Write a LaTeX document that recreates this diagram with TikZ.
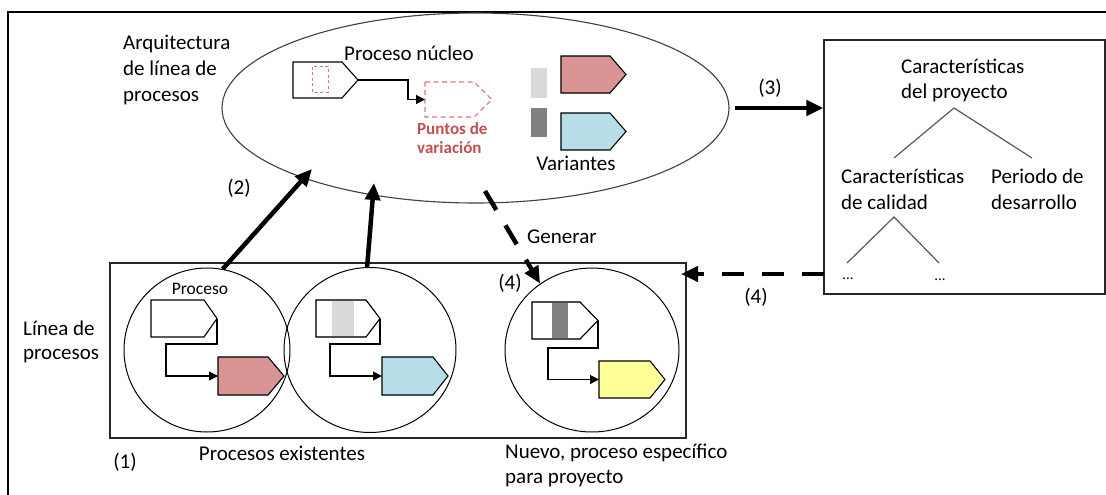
\documentclass[tikz,border=0pt]{standalone}
\usepackage{fontspec}
\setmainfont{Carlito}
\usetikzlibrary{arrows.meta,shapes.geometric,calc}

\definecolor{varred}{HTML}{D99594}
\definecolor{varblue}{HTML}{B7DDE8}
\definecolor{varyellow}{HTML}{FFFF99}
\definecolor{lightstripe}{HTML}{D9D9D9}
\definecolor{darkstripe}{HTML}{808080}
\definecolor{vpline}{HTML}{E07575}
\definecolor{vptext}{HTML}{C0504D}
\definecolor{treegray}{HTML}{5A5A5A}
\definecolor{ellgray}{HTML}{404040}
\definecolor{boxgray}{HTML}{262626}

\newcommand\diagfont{\fontsize{21}{25}\selectfont}
\newcommand\procfont{\fontsize{17.5}{20}\selectfont}
\newcommand\vpfont{\fontsize{17}{19}\selectfont\bfseries}
\newcommand\dotfont{\fontsize{15}{18}\selectfont}

% process step drawn as a pentagon: name, left, top, width, height, tip length, style
\newcommand\procshape[7]{%
  \draw[#7] (#2,#3) -- (#2+#4-#6,#3) -- (#2+#4,#3+#5/2) -- (#2+#4-#6,#3+#5)
        -- (#2,#3+#5) -- cycle;
  \coordinate (#1-w) at (#2,#3+#5/2);
  \coordinate (#1-e) at (#2+#4,#3+#5/2);
}

\tikzset{
  lbl/.style={font=\diagfont, inner sep=0pt, anchor=base west},
  lblc/.style={font=\diagfont, inner sep=0pt, anchor=base},
  bigarrow/.style={line width=4.5pt, -{Triangle[length=17pt,width=15pt]}},
  dasharrow/.style={bigarrow, dash pattern=on 22pt off 18pt},
  conn/.style={line width=1.1pt, -{Triangle[length=9pt,width=9pt]}},
  stepbox/.style={draw=black, line width=1.1pt},
  bubble/.style={ellipse, draw=black, line width=1pt, inner sep=0pt},
  treeline/.style={treegray, line width=1.2pt},
}

\begin{document}
\begin{tikzpicture}[x=1pt, y=-1pt]
\useasboundingbox (0,0) rectangle (1106,495);
\fill[white] (0,0) rectangle (1106,495);

% outer frame
\draw[line width=2pt, black] (1110,12) -- (8,12) -- (8,500);

% process line architecture
\node[ellipse, draw=ellgray, line width=1.1pt, minimum width=507pt,
      minimum height=190pt, inner sep=0pt] (arch) at (475.5,108) {};
\node[lbl] (arq1) at (123,50) {Arquitectura};
\node[lbl] (arq2) at (123,76) {de línea de};
\node[lbl] (arq3) at (123,101) {procesos};

\node[lblc] (nucleo) at (409,60) {Proceso núcleo};
\procshape{core}{293}{62}{65}{36}{16}{stepbox, fill=white}
\draw[vpline, line width=1pt, dash pattern=on 3pt off 2.5pt] (312,67) rectangle (328,92);
\procshape{vp}{425}{82}{67}{35}{18}{vpline, line width=1.1pt, dash pattern=on 5pt off 3.5pt}
\draw[conn] (core-e) -| ([xshift=-17pt]vp-w) -- (vp-w);
\node[font=\vpfont, text=vptext, inner sep=0pt, anchor=base west] (vp1) at (417,134) {Puntos de};
\node[font=\vpfont, text=vptext, inner sep=0pt, anchor=base west] (vp2) at (417,153) {variación};

% variants
\fill[lightstripe] (531,68) rectangle (547,98);
\fill[darkstripe] (531,108) rectangle (547,137);
\procshape{vred}{561}{56}{65}{37}{16}{stepbox, fill=varred}
\procshape{vblue}{561}{113}{65}{37}{16}{stepbox, fill=varblue}
\node[lblc] (variantes) at (576,170) {Variantes};

% project characteristics
\node[draw=boxgray, line width=1.3pt, minimum width=281pt, minimum height=254pt,
      inner sep=0pt] (proj) at (964.5,167) {};
\node[lbl] (pc1) at (901,74) {Características};
\node[lbl] (pc2) at (901,99) {del proyecto};
\node[lbl] (qc1) at (841,183) {Características};
\node[lbl] (qc2) at (841,209) {de calidad};
\node[lbl] (pd1) at (991,183) {Periodo de};
\node[lbl] (pd2) at (991,209) {desarrollo};
\node[font=\dotfont, inner sep=0pt, anchor=base] (dots1) at (848,279) {...};
\node[font=\dotfont, inner sep=0pt, anchor=base] (dots2) at (940,280) {...};
\coordinate (t0) at (954,108);
\coordinate (t1) at (894,158);
\coordinate (t2) at (1032,158);
\coordinate (s0) at (894,217);
\coordinate (s1) at (847,263);
\coordinate (s2) at (939,263);
\draw[treeline] (t1) -- (t0) -- (t2);
\draw[treeline] (s1) -- (s0) -- (s2);

% process line
\node[lbl] (lin1) at (23,335) {Línea de};
\node[lbl] (lin2) at (23,359) {procesos};
\node[draw=boxgray, line width=1.3pt, minimum width=576pt, minimum height=175pt,
      inner sep=0pt] (linea) at (398,350.5) {};

\node[bubble, minimum width=166pt, minimum height=164pt] (c1) at (207,350) {};
\node[bubble, minimum width=172pt, minimum height=165pt] (c2) at (370,350) {};
\node[bubble, minimum width=174pt, minimum height=164pt] (c3) at (592,350) {};

% existing process 1
\node[font=\procfont, inner sep=0pt, anchor=base] (proc) at (200,294) {Proceso};
\procshape{pa}{151}{300}{66}{37}{13}{stepbox, fill=white}
\procshape{pb}{218}{357}{66}{38}{16}{stepbox, fill=varred}
\draw[conn] (pa-e) |- (166,344) |- (pb-w);

% existing process 2
\procshape{qa}{316}{300}{64}{37}{14}{fill=white}
\fill[lightstripe] (332,300.6) rectangle (354,336.4);
\procshape{qa}{316}{300}{64}{37}{14}{stepbox}
\procshape{qb}{382}{357}{66}{38}{15}{stepbox, fill=varblue}
\draw[conn] (qa-e) |- (330,344) |- (qb-w);

% new project specific process
\procshape{ra}{532}{302}{66}{37}{18}{fill=white}
\fill[darkstripe] (552,302.6) rectangle (568,338.4);
\procshape{ra}{532}{302}{66}{37}{18}{stepbox}
\procshape{rb}{599}{361}{66}{37}{15}{stepbox, fill=varyellow}
\draw[conn] (ra-e) |- (548,348) |- (rb-w);

% relations
\coordinate (a2tip) at (312,169);
\coordinate (b2tip) at (374,183);
\coordinate (genstart) at (485,191);
\coordinate (d4start) at (824,274);
\coordinate (d4tip) at (681,274);
\draw[bigarrow] (c1.79) -- (a2tip);
\draw[bigarrow] (c2.92) -- (b2tip);
\draw[bigarrow] ([xshift=5pt]arch.east) -- (arch.east -| proj.west);
\draw[dasharrow] (genstart) -- (c3.128);
\draw[dasharrow] (d4start) -- (d4tip);

\node[lblc] (n3) at (770,94) {(3)};
\node[lblc] (n2) at (239,194) {(2)};
\node[lbl] (gen) at (527,243) {Generar};
\node[lblc] (n4a) at (510,289) {(4)};
\node[lblc] (n4b) at (756,303) {(4)};

% captions
\node[lblc] (n1) at (125,468) {(1)};
\node[lblc] (exist) at (282,460) {Procesos existentes};
\node[lbl] (nuevo1) at (505,458) {Nuevo, proceso específico};
\node[lbl] (nuevo2) at (505,483) {para proyecto};
\end{tikzpicture}
\end{document}
